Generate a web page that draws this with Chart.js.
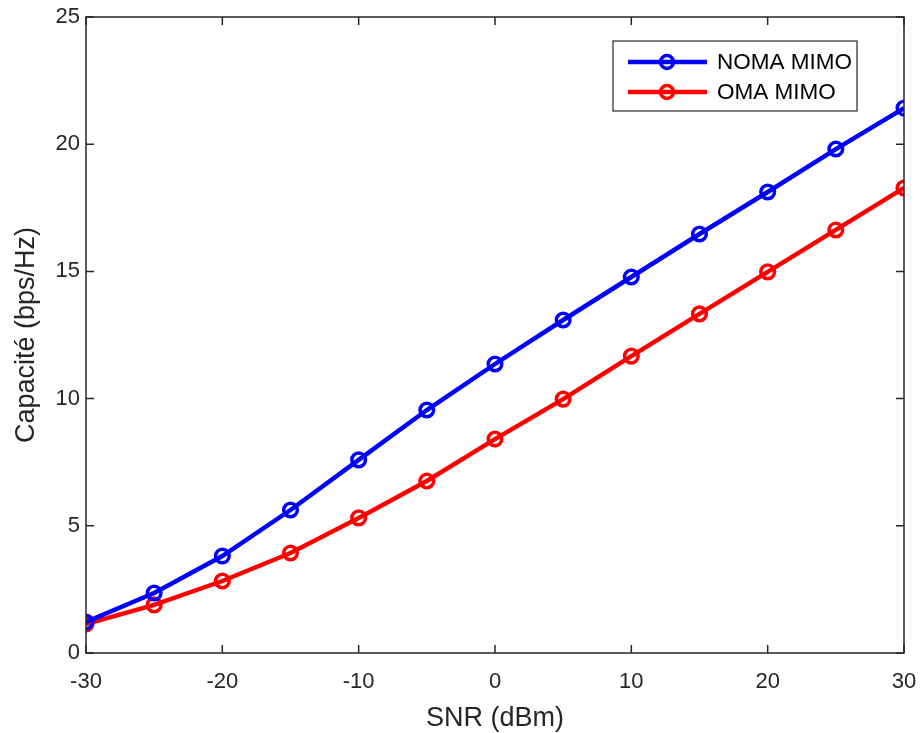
<!DOCTYPE html>
<html>
<head>
<meta charset="utf-8">
<script src="https://cdn.jsdelivr.net/npm/chart.js@4/dist/chart.umd.min.js"></script>
<style>
html,body{margin:0;padding:0;background:#fff;}
#wrap{width:923px;height:733px;}
</style>
</head>
<body>
<div id="wrap"><canvas id="c" width="923" height="733"></canvas></div>
<script>
const snr = [-30,-25,-20,-15,-10,-5,0,5,10,15,20,25,30];
const nomaMimo = [1.22,2.36,3.81,5.62,7.59,9.55,11.36,13.09,14.78,16.47,18.12,19.81,21.42];
const omaMimo = [1.14,1.89,2.83,3.93,5.31,6.76,8.41,9.98,11.67,13.33,14.98,16.63,18.28];
const xTicks = [-30,-20,-10,0,10,20,30];
const yTicks = [0,5,10,15,20,25];
const seriesNames = ['NOMA MIMO','OMA MIMO'];
const seriesColors = ['#0000ff','#ff0000'];

const FONT = 'Liberation Sans, Arial, sans-serif';
const AX = '#262626';

const boxPlugin = {
  id:'box',
  afterDatasetsDraw(chart){
    const {ctx, chartArea:a, scales:{x,y}} = chart;
    ctx.save();
    ctx.strokeStyle = AX; ctx.lineWidth = 1.5;
    ctx.strokeRect(a.left, a.top, a.right-a.left, a.bottom-a.top);
    const L = 8;
    ctx.beginPath();
    xTicks.forEach(v=>{const px=x.getPixelForValue(v);
      ctx.moveTo(px,a.bottom);ctx.lineTo(px,a.bottom-L);
      ctx.moveTo(px,a.top);ctx.lineTo(px,a.top+L);});
    yTicks.forEach(v=>{const py=y.getPixelForValue(v);
      ctx.moveTo(a.left,py);ctx.lineTo(a.left+L,py);
      ctx.moveTo(a.right,py);ctx.lineTo(a.right-L,py);});
    ctx.stroke();
    // legend
    const lx=613, ly=41, lw=244, lh=70;
    ctx.fillStyle='#fff'; ctx.fillRect(lx,ly,lw,lh);
    ctx.strokeStyle=AX; ctx.lineWidth=1.2; ctx.strokeRect(lx,ly,lw,lh);
    chart.data.datasets.forEach((ds,i)=>{
      const cy = 62 + i*30;
      ctx.strokeStyle=ds.borderColor; ctx.lineWidth=4.5;
      ctx.beginPath(); ctx.moveTo(628,cy); ctx.lineTo(707,cy); ctx.stroke();
      ctx.lineWidth=3.5;
      ctx.beginPath(); ctx.arc(667,cy,6.5,0,Math.PI*2); ctx.stroke();
      ctx.fillStyle='#000'; ctx.font='22.5px '+FONT; ctx.textBaseline='middle'; ctx.textAlign='left';
      ctx.fillText(ds.label, 717, cy+1);
    });
    ctx.restore();
  }
};

new Chart(document.getElementById('c'), {
  type:'line',
  data:{
    datasets:[
      {label:seriesNames[0], data:snr.map((s,i)=>({x:s,y:nomaMimo[i]})), borderColor:seriesColors[0], borderWidth:4.5,
       pointRadius:6.8, pointBorderWidth:3.5, pointBackgroundColor:'rgba(0,0,0,0)', pointBorderColor:seriesColors[0], tension:0},
      {label:seriesNames[1], data:snr.map((s,i)=>({x:s,y:omaMimo[i]})), borderColor:seriesColors[1], borderWidth:4.5,
       pointRadius:6.8, pointBorderWidth:3.5, pointBackgroundColor:'rgba(0,0,0,0)', pointBorderColor:seriesColors[1], tension:0}
    ]
  },
  options:{
    responsive:false, animation:false,
    layout:{padding:{top:17,right:19,left:0,bottom:0}},
    plugins:{legend:{display:false}, tooltip:{enabled:false}},
    scales:{
      x:{type:'linear', min:-30, max:30,
         afterBuildTicks(s){s.ticks=xTicks.map(v=>({value:v}));},
         afterFit(s){s.height=80; s.paddingLeft=0; s.paddingRight=0;},
         grid:{display:false, drawTicks:false},
         border:{display:false},
         ticks:{color:AX, font:{family:FONT,size:22}, padding:16, maxRotation:0},
         title:{display:true, text:'SNR (dBm)', color:AX, font:{family:FONT,size:27}, padding:{top:0,bottom:-2}}
      },
      y:{type:'linear', min:0, max:25,
         afterBuildTicks(s){s.ticks=yTicks.map(v=>({value:v}));},
         afterFit(s){s.width=86; s.paddingTop=0; s.paddingBottom=0;},
         grid:{display:false, drawTicks:false},
         border:{display:false},
         ticks:{color:AX, font:{family:FONT,size:22}, padding:6},
         title:{display:true, text:'Capacité (bps/Hz)', color:AX, font:{family:FONT,size:27}, padding:{top:10,bottom:0}}
      }
    }
  },
  plugins:[boxPlugin]
});
</script>
</body>
</html>
